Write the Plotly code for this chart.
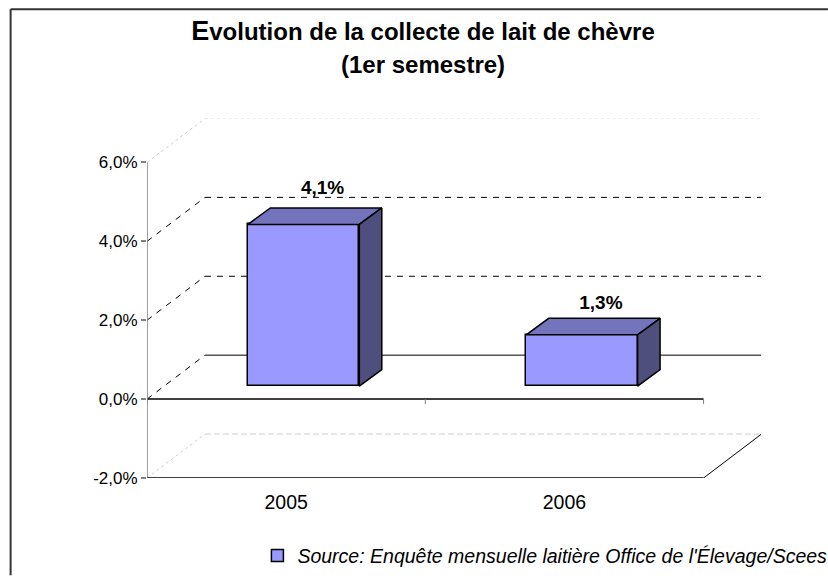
import plotly.graph_objects as go

# Data
categories = ["2005", "2006"]
values = [4.1, 1.3]
labels = ["4,1%", "1,3%"]
y_ticks = [-2, 0, 2, 4, 6]
y_tick_labels = ["-2,0%", "0,0%", "2,0%", "4,0%", "6,0%"]
title_lines = ["Evolution de la collecte de lait de chèvre", "(1er semestre)"]
legend_text = "Source: Enquête mensuelle laitière Office de l'Élevage/Scees"

# Pseudo-3D geometry in axis units
W, H = 828, 576
L, R, T, B = 146.5, 67, 116, 97.5
X_UNIT = 278.5
Y_UNIT = 39.5
XMIN, XMAX = -0.5, -0.5 + (W - L - R) / X_UNIT
YMIN, YMAX = -2, -2 + (H - T - B) / Y_UNIT
WALL_DX, WALL_DY = 58 / X_UNIT, 44 / Y_UNIT
BAR_DX, BAR_DY = 22.5 / X_UNIT, 16.5 / Y_UNIT
BAR_SHIFT, BAR_BASE = 17.5 / X_UNIT, 13 / Y_UNIT
BAR_W = 111.5 / X_UNIT
LABEL_GAPS = [35, 31]
FRONT, TOP, SIDE = "#9999FF", "#7474BC", "#4F4F7E"
FONT = "Liberation Sans"

xs = list(range(len(categories)))
fig = go.Figure()

# Front faces
fig.add_trace(go.Bar(
    x=[x + BAR_SHIFT for x in xs], y=values, base=BAR_BASE, width=BAR_W,
    marker=dict(color=FRONT, line=dict(color="black", width=1.5)),
    name="<i>" + legend_text + "</i>", showlegend=True, hoverinfo="skip",
))

# Top and side faces, computed from the values
for x, v in zip(xs, values):
    x0 = x + BAR_SHIFT - BAR_W / 2
    x1 = x + BAR_SHIFT + BAR_W / 2
    y0 = BAR_BASE
    y1 = BAR_BASE + v
    fig.add_trace(go.Scatter(
        x=[x0, x0 + BAR_DX, x1 + BAR_DX, x1, x0],
        y=[y1, y1 + BAR_DY, y1 + BAR_DY, y1, y1],
        mode="lines", fill="toself", fillcolor=TOP,
        line=dict(color="black", width=1.5), showlegend=False, hoverinfo="skip"))
    fig.add_trace(go.Scatter(
        x=[x1, x1 + BAR_DX, x1 + BAR_DX, x1, x1],
        y=[y1, y1 + BAR_DY, y0 + BAR_DY, y0, y1],
        mode="lines", fill="toself", fillcolor=SIDE,
        line=dict(color="black", width=1.5), showlegend=False, hoverinfo="skip"))

# Data labels
fig.add_trace(go.Scatter(
    x=[x + BAR_SHIFT + 19 / X_UNIT for x in xs],
    y=[BAR_BASE + v + g / Y_UNIT for v, g in zip(values, LABEL_GAPS)],
    mode="text", text=["<b>" + t + "</b>" for t in labels], textposition="middle center",
    textfont=dict(family=FONT, size=19, color="black"),
    showlegend=False, hoverinfo="skip"))

shapes = []
def seg(x0, y0, x1, y1, color="black", width=1, dash="solid", layer="below"):
    shapes.append(dict(type="line", xref="x", yref="y", x0=x0, y0=y0, x1=x1, y1=y1,
                       line=dict(color=color, width=width, dash=dash), layer=layer))

wall_left = XMIN + WALL_DX
wall_right = XMAX
styles = {
    6: ("#EDEDED", "dot"),
    4: ("black", "6px,6px"),
    2: ("black", "6px,6px"),
    0: ("black", "solid"),
    -2: ("#CFCFCF", "6px,3px"),
}
for t in y_ticks:
    color, dash = styles[t]
    seg(wall_left, t + WALL_DY, wall_right, t + WALL_DY, color, 1, dash)
    diag_color = "#D0D0D0" if t in (6, -2) else "black"
    diag_dash = "dot" if t in (6, -2) else "6px,6px"
    seg(XMIN, t, wall_left, t + WALL_DY, diag_color, 1, diag_dash)

# Floor right edge and axes
x_end = XMIN + len(categories)
seg(x_end, -2, x_end + WALL_DX, -2 + WALL_DY, "black", 1)
seg(XMIN, 0, x_end, 0, "black", 1.5, layer="above")
seg(XMIN, -2, x_end, -2, "black", 1.5, layer="above")
seg(XMIN, -2 - 5 / Y_UNIT, XMIN, 6, "#808080", 1.5, layer="above")
for k in range(len(categories) + 1):
    seg(XMIN + k, 0, XMIN + k, -5 / Y_UNIT, "#808080", 1, layer="above")
    seg(XMIN + k, -2, XMIN + k, -2 - 5 / Y_UNIT, "#808080", 1, layer="above")

# Outer frame: top and left only
px = lambda p: (p - L) / (W - L - R)
py = lambda p: 1 - (p - T) / (H - T - B)
for a in [(10, 9, W, 9), (10, 9, 10, H)]:
    shapes.append(dict(type="line", xref="paper", yref="paper",
                       x0=px(a[0]), y0=py(a[1]), x1=px(a[2]), y1=py(a[3]),
                       line=dict(color="#333333", width=2), layer="above"))

fig.update_layout(
    width=W, height=H, autosize=False,
    margin=dict(l=L, r=R, t=T, b=B, pad=0, autoexpand=False),
    paper_bgcolor="white", plot_bgcolor="white",
    font=dict(family=FONT, size=19, color="black"),
    shapes=shapes,
    bargap=0,
    title=dict(
        text="<span style='font-size:27px'>" + title_lines[0][0] + "</span>" + title_lines[0][1:],
        x=423 / W, xanchor="center", y=1 - 23 / H, yanchor="top",
        font=dict(family=FONT, size=24, color="black", weight="bold")),
    annotations=[dict(text="<b>" + title_lines[1] + "</b>", xref="paper", yref="paper",
                      x=px(423), y=py(64), xanchor="center", yanchor="middle", showarrow=False,
                      font=dict(family=FONT, size=24, color="black"))],
    xaxis=dict(range=[XMIN, XMAX], tickmode="array", tickvals=xs, ticktext=categories,
               showgrid=False, zeroline=False, showline=False, ticks="",
               tickfont=dict(size=19.5), ticklabelstandoff=10),
    yaxis=dict(range=[YMIN, YMAX], tickmode="array", tickvals=y_ticks, ticktext=y_tick_labels,
               showgrid=False, zeroline=False, showline=False, ticks="outside", ticklen=5,
               tickcolor="#808080", tickwidth=1.5, tickfont=dict(size=17)),
    legend=dict(x=px(257), y=py(537), xanchor="left", yanchor="top",
                bgcolor="rgba(0,0,0,0)", font=dict(size=19.5, family=FONT)),
)
fig.write_html("out.html", config=dict(displayModeBar=False),
               post_script="document.body.style.margin='0';document.documentElement.style.overflow='hidden';")
